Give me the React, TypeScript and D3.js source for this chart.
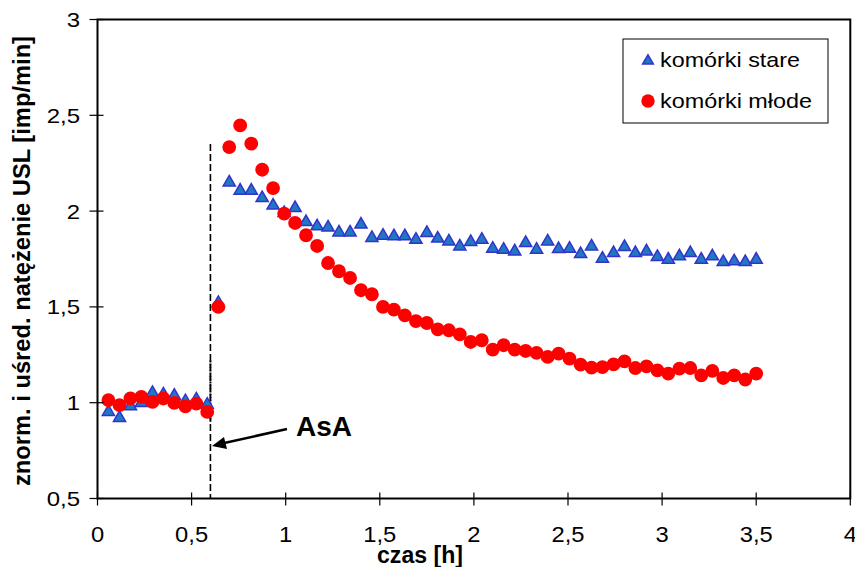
import React from "react";
import * as d3 from "d3";

const timeH = [0.058, 0.117, 0.175, 0.233, 0.292, 0.35, 0.408, 0.467, 0.525, 0.583, 0.642, 0.7, 0.758, 0.817, 0.875, 0.933, 0.992, 1.05, 1.108, 1.167, 1.225, 1.283, 1.342, 1.4, 1.458, 1.517, 1.575, 1.633, 1.692, 1.75, 1.808, 1.867, 1.925, 1.983, 2.042, 2.1, 2.158, 2.217, 2.275, 2.333, 2.392, 2.45, 2.508, 2.567, 2.625, 2.683, 2.742, 2.8, 2.858, 2.917, 2.975, 3.033, 3.092, 3.15, 3.208, 3.267, 3.325, 3.383, 3.442, 3.5];

const komorkiStare = [0.957, 0.926, 0.987, 1.004, 1.056, 1.048, 1.042, 1.013, 1.022, 0.995,
  1.526, 2.155, 2.112, 2.112, 2.073, 2.034, 1.995, 2.021, 1.948, 1.926,
  1.92, 1.894, 1.894, 1.935, 1.865, 1.877, 1.874, 1.874, 1.856, 1.891,
  1.862, 1.847, 1.821, 1.844, 1.856, 1.809, 1.804, 1.795, 1.839, 1.804,
  1.847, 1.807, 1.809, 1.781, 1.821, 1.757, 1.786, 1.818, 1.786, 1.795,
  1.766, 1.752, 1.769, 1.786, 1.752, 1.769, 1.739, 1.743, 1.739, 1.752];

const komorkiMlode = [1.013, 0.987, 1.022, 1.03, 1.004, 1.022, 0.999, 0.981, 0.995, 0.952,
  1.5, 2.334, 2.447, 2.352, 2.216, 2.12, 1.987, 1.938, 1.874, 1.818,
  1.729, 1.686, 1.651, 1.587, 1.566, 1.5, 1.486, 1.456, 1.426, 1.416,
  1.383, 1.378, 1.357, 1.317, 1.326, 1.277, 1.3, 1.277, 1.27, 1.26,
  1.239, 1.256, 1.23, 1.199, 1.183, 1.186, 1.2, 1.216, 1.181, 1.19,
  1.169, 1.152, 1.178, 1.181, 1.143, 1.166, 1.129, 1.143, 1.121, 1.152];

const xTicks = [0, 0.5, 1, 1.5, 2, 2.5, 3, 3.5, 4];
const yTicks = [0.5, 1, 1.5, 2, 2.5, 3];
const seriesNames = ["komórki stare", "komórki młode"];
const asaTime = 0.6;
const asaTop = 2.35;

const FONT = "'Liberation Sans', Arial, sans-serif";
const fmt = (v: number) => String(v).replace(".", ",");

export default function App() {
  const W = 855, H = 567;
  const x = d3.scaleLinear().domain([0, 4]).range([97.5, 850.3]);
  const y = d3.scaleLinear().domain([0.5, 3]).range([498.5, 19.5]);
  const tri = d3.symbol().type(d3.symbolTriangle).size(64)();
  const circ = d3.symbol().type(d3.symbolCircle).size(150)();
  const [x0, x1] = x.range();
  const [y0, y1] = y.range();

  return (
    <div style={{ position: "absolute", left: 0, top: 0 }}>
      <svg width={W} height={H} style={{ display: "block", background: "#fff" }} fontFamily={FONT}>
        {/* AsA dashed line */}
        <line x1={x(asaTime)} x2={x(asaTime)} y1={y(asaTop)} y2={y0} stroke="#000" strokeWidth={1.6} strokeDasharray="7,3" />
        <line x1={x(asaTime)} x2={x(asaTime)} y1={y(1.22)} y2={y(0.9)} stroke="#000" strokeWidth={2} strokeDasharray="2,1" />

        {/* series */}
        {timeH.map((t, i) => (
          <path key={"s" + i} d={tri!} transform={`translate(${x(t)},${y(komorkiStare[i]) + 1})`} fill="#1f78c1" stroke="#3333cc" strokeWidth={1.5} />
        ))}
        {timeH.map((t, i) => (
          <path key={"m" + i} d={circ!} transform={`translate(${x(t)},${y(komorkiMlode[i])})`} fill="#ff0000" />
        ))}

        {/* frame */}
        <rect x={x0} y={y1} width={x1 - x0} height={y0 - y1} fill="none" stroke="#000" strokeWidth={2} />

        {/* y ticks */}
        {yTicks.map((v) => (
          <g key={"yt" + v}>
            <line x1={x0 - 8} x2={x0 + 6} y1={y(v)} y2={y(v)} stroke="#000" strokeWidth={1.2} />
            <text transform={`translate(80,${y(v) + 7.5}) scale(1.2,1)`} textAnchor="end" fontSize={20} fill="#000">{fmt(v)}</text>
          </g>
        ))}
        {/* x ticks */}
        {xTicks.map((v) => (
          <g key={"xt" + v}>
            <line x1={x(v)} x2={x(v)} y1={y0 - 6} y2={y0 + 7} stroke="#000" strokeWidth={1.2} />
            <text transform={`translate(${x(v)},541.5) scale(1.08,1)`} textAnchor="middle" fontSize={22} fill="#000">{fmt(v)}</text>
          </g>
        ))}

        {/* axis titles */}
        <text x={420} y={563} textAnchor="middle" fontSize={23} fontWeight="bold" textLength={86} lengthAdjust="spacingAndGlyphs">czas [h]</text>
        <text transform="translate(30,261) rotate(-90)" textAnchor="middle" fontSize={23} fontWeight="bold" textLength={450} lengthAdjust="spacingAndGlyphs">znorm. i uśred. natężenie USL [imp/min]</text>

        {/* AsA annotation */}
        <line x1={287} y1={429} x2={222} y2={443.5} stroke="#000" strokeWidth={2.5} />
        <path d="M212,446 L224,437 L227,449 Z" fill="#000" />
        <text x={296} y={436} fontSize={28} fontWeight="bold">AsA</text>

        {/* legend */}
        <rect x={623} y={39} width={205} height={84} fill="#fff" stroke="#000" strokeWidth={1} />
        <path d={d3.symbol().type(d3.symbolTriangle).size(50)()!} transform="translate(648,61)" fill="#1f78c1" stroke="#3333cc" strokeWidth={1.5} />
        <text x={660} y={67} fontSize={21} textLength={140} lengthAdjust="spacingAndGlyphs">{seriesNames[0]}</text>
        <path d={d3.symbol().type(d3.symbolCircle).size(140)()!} transform="translate(648,101)" fill="#ff0000" />
        <text x={660} y={108} fontSize={21} textLength={152} lengthAdjust="spacingAndGlyphs">{seriesNames[1]}</text>
      </svg>
    </div>
  );
}
